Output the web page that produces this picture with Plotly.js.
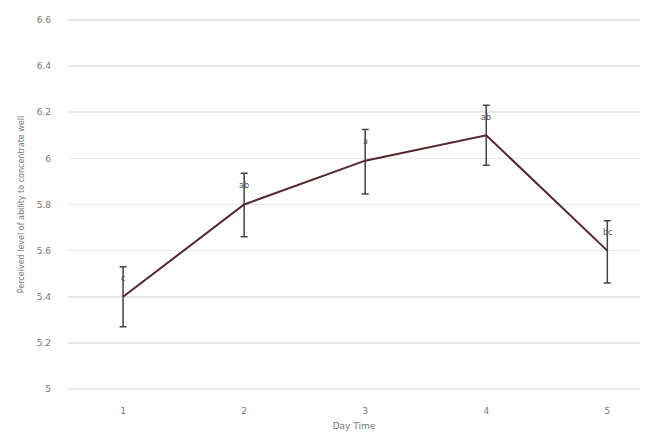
<!DOCTYPE html>
<html>
<head>
<meta charset="utf-8">
<script src="https://cdn.plot.ly/plotly-3.0.1.min.js"></script>
<style>html,body{margin:0;padding:0;background:#fff;}#chart{width:649px;height:433px;}</style>
</head>
<body>
<div id="chart"></div>
<script>
var days = [1, 2, 3, 4, 5];
var meanValues = [5.4, 5.8, 5.99, 6.1, 5.6];
var errUpper = [0.13, 0.135, 0.135, 0.13, 0.13];
var errLower = [0.13, 0.14, 0.145, 0.13, 0.14];
var groupLetters = ['c', 'ab', 'a', 'ab', 'bc'];
var yTicks = [5, 5.2, 5.4, 5.6, 5.8, 6, 6.2, 6.4, 6.6];
var yTickText = ['5', '5.2', '5.4', '5.6', '5.8', '6', '6.2', '6.4', '6.6'];

var trace = {
  x: days,
  y: meanValues,
  type: 'scatter',
  mode: 'lines',
  line: {color: '#55262e', width: 2},
  error_y: {type: 'data', symmetric: false, array: errUpper, arrayminus: errLower,
            color: '#444444', thickness: 1.5, width: 3.5},
  hoverinfo: 'none'
};

var annotations = days.map(function(d, i) {
  return {x: d, y: meanValues[i] + errUpper[i] * 0.6, xref: 'x', yref: 'y',
          text: groupLetters[i], showarrow: false,
          font: {family: 'DejaVu Sans', size: 8, color: '#555555'}};
});

var layout = {
  width: 649, height: 433,
  margin: {l: 68, r: 9, t: 13, b: 37},
  paper_bgcolor: '#ffffff', plot_bgcolor: '#ffffff',
  showlegend: false,
  xaxis: {range: [0.545, 5.27], tickvals: days, ticktext: days.map(String),
          showgrid: false, zeroline: false, showline: false,
          ticks: '', ticklabelstandoff: 8, tickfont: {family: 'DejaVu Sans', size: 9, color: '#777777'},
          title: {text: 'Day Time', font: {family: 'DejaVu Sans', size: 9, color: '#777777'}, standoff: 7}},
  yaxis: {range: [4.97, 6.63], tickvals: yTicks, ticktext: yTickText,
          showgrid: true, gridcolor: '#e8e8e8', gridwidth: 1.5, zeroline: false, showline: false,
          ticks: '', ticklen: 0, ticklabelstandoff: 16, tickfont: {family: 'DejaVu Sans', size: 9, color: '#777777'},
          title: {text: 'Perceived level of ability to concentrate well', font: {family: 'DejaVu Sans', size: 8, color: '#777777'}, standoff: 10}},
  annotations: annotations
};

Plotly.newPlot('chart', [trace], layout, {staticPlot: true, displayModeBar: false});
</script>
</body>
</html>
